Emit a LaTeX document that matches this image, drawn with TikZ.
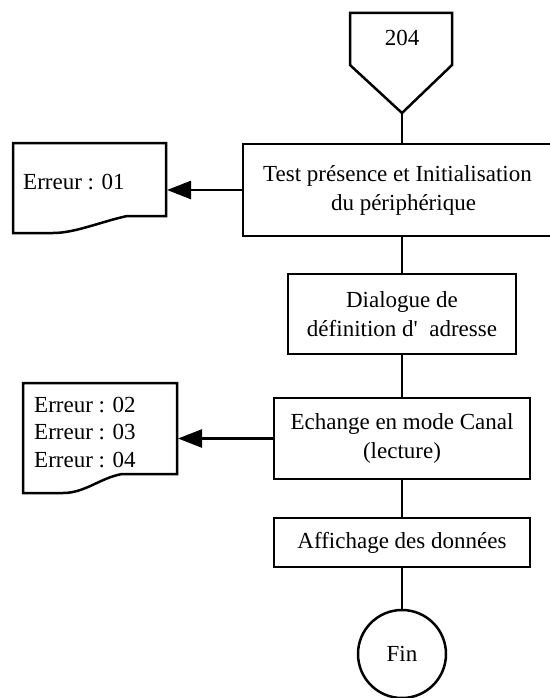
\documentclass[tikz,border=0pt]{standalone}
\usepackage{fontspec}
\setmainfont{Liberation Serif}[Ligatures=TeXOff]
\usetikzlibrary{arrows.meta}
\begin{document}
\begin{tikzpicture}[x=1bp,y=-1bp,
  every node/.style={font=\fontsize{23bp}{29bp}\selectfont},
  ln/.style={line width=2.5bp, draw=black},
  procbox/.style={ln, rectangle, inner sep=0pt, align=center},
  txt/.style={inner sep=0pt, align=left},
  arr/.style={ln, -{Triangle[length=24bp,width=18bp]}}
]
\useasboundingbox (0,0) rectangle (550,698);
\clip (0,0) rectangle (550,698);

% off-page connector 204
\draw[ln, line join=miter] (350,13) -- (452,13) -- (452,65) -- (402,113) -- (350,65) -- cycle;
\node (c204) at (402,38) {204};
\coordinate (tip) at (402,113);

% process boxes
\node[procbox, minimum width=309bp, minimum height=92bp] (test) at (397.5,190)
  {Test présence et Initialisation\\\hspace*{12bp}du périphérique};
\node[procbox, minimum width=228bp, minimum height=80bp] (dial) at (402,314)
  {Dialogue de\\définition d'\ \ adresse};
\node[procbox, minimum width=256bp, minimum height=81bp] (ech) at (402,438.5)
  {Echange en mode Canal\\(lecture)};
\node[procbox, minimum width=256bp, minimum height=49bp] (aff) at (402,542.5)
  {Affichage des données};
\node[ln, circle, minimum size=88bp, inner sep=0pt] (fin) at (402,654) {Fin};

% documents
\draw[ln, line join=miter] (166,143) -- (166,216) -- (127,216)
  .. controls (100,222) and (75,233) .. (53,233) -- (13,233) -- (13,143) -- cycle;
\node[txt, anchor=west] (e01) at (23,182) {Erreur : 01};
\coordinate (doc1r) at (167,190);

\draw[ln, line join=miter] (177,383) -- (177,474) -- (122,474)
  .. controls (100,478) and (85,493) .. (63,493) -- (23,493) -- (23,383) -- cycle;
\node[txt, anchor=west] (e02) at (34,405) {Erreur : 02};
\node[txt, anchor=west] (e03) at (34,432) {Erreur : 03};
\node[txt, anchor=west] (e04) at (34,460) {Erreur : 04};
\coordinate (doc2r) at (178,438.5);

% connectors
\draw[ln] (tip) -- (tip |- test.north);
\draw[ln] (dial.north |- test.south) -- (dial.north);
\draw[ln] (dial.south) -- (ech.north);
\draw[ln] (ech.south) -- (aff.north);
\draw[ln] (aff.south) -- (fin.north);
\draw[arr] (test.west) -- (doc1r);
\draw[arr] (ech.west) -- (doc2r);
\end{tikzpicture}
\end{document}
